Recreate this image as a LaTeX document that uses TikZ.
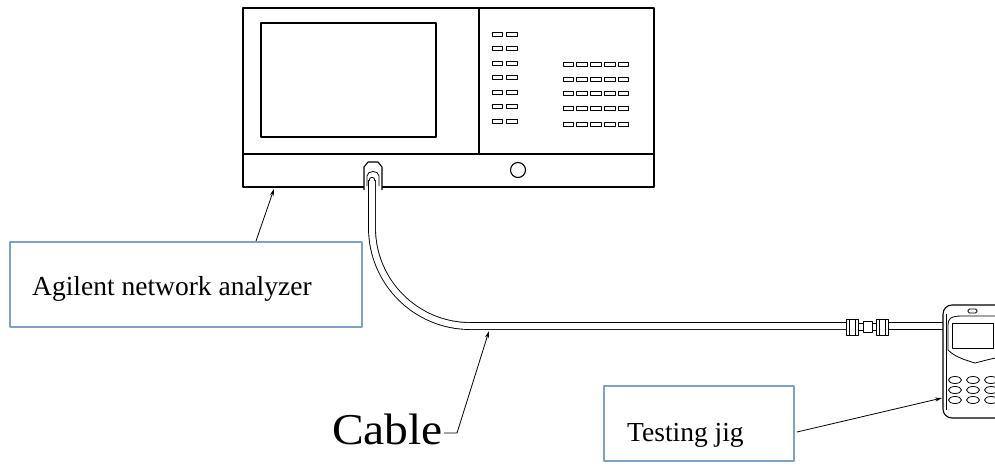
\documentclass[tikz,border=0pt]{standalone}
\usepackage{fontspec}
\usepackage{graphicx}
\setmainfont{Liberation Serif}
\usetikzlibrary{arrows.meta}
\definecolor{boxblue}{RGB}{126,161,199}
\begin{document}
\begin{tikzpicture}[x=1pt,y=-1pt,line join=round,
  dev/.style={draw=black,line width=1.1pt},
  btn/.style={draw=black,line width=0.8pt},
  lbox/.style={draw=boxblue,line width=2.5pt,inner sep=0pt,fill=white},
  lbl/.style={font=\fontsize{27.5}{30}\selectfont,inner sep=0pt},
  leader/.style={draw=black,line width=0.8pt,-{Stealth[length=7pt,width=4pt]}},
  cable/.style={draw=black,line width=0.9pt,double=white,double distance=6pt}]
\useasboundingbox (0,0) rectangle (995,466);

% ---------------- analyzer ----------------
\node[dev,minimum width=411pt,minimum height=179pt,inner sep=0pt] (ana) at (448.5,97.5) {};
\draw[dev] (243,154) -- (654,154);
\draw[dev] (479,8) -- (479,154);
\draw[dev] (261,23) rectangle (436,137);
\foreach \y in {34,48.5,63,77.5,92,106.5,121} {
  \draw[btn] (492,\y-2) rectangle (502.5,\y+2);
  \draw[btn] (506,\y-2) rectangle (517,\y+2);
}
\foreach \y in {64,79,93,108,124} {
  \foreach \i in {0,...,4} {
    \draw[btn] ({563+13.8*\i},\y-2) rectangle ({573.5+13.8*\i},\y+2);
  }
}
\draw[dev] (518,170) circle[radius=7.5];
\coordinate (anaTip) at (274,189);

% port outer
\draw[dev,fill=white] (364,190) -- (364,167) -- (368,162) -- (378,162) -- (382,167) -- (382,190);

% ---------------- cable ----------------
\coordinate (portC) at (372,180);
\coordinate (fitL) at (846,326);
\coordinate (fitR) at (888,326);
\coordinate (jig) at (945,326);
\draw[cable] (portC) -- (372,228) .. controls (372,282) and (416,326) .. (470,326) -- (fitL);
\draw[cable] (fitR) -- (jig);
% port inner
\draw[btn] (367,186) -- (367,176) .. controls (367,170) and (379,170) .. (379,176) -- (379,186);
\draw[btn] (369,181) .. controls (369,176) and (375,176) .. (375,181);

% fittings
\foreach \a/\b in {846/858,876/888} {
  \draw[btn,fill=white] (\a,319) rectangle (\b,335);
  \draw[btn] (\a+3,319) -- (\a+3,335);
  \draw[btn] (\b-3,319) -- (\b-3,335);
}
\draw[btn,fill=white] (858,323) rectangle (863,330);
\draw[btn,fill=white] (872,323) rectangle (876,330);
\draw[btn,fill=white] (863,321) rectangle (872,332);

% ---------------- phone (testing jig) ----------------
\begin{scope}
\clip (900,290) rectangle (995,466);
\draw[dev,rounded corners=9pt,fill=white] (943,305) rectangle (1020,418);
\draw[btn] (946,314) -- (946,410);
\draw[btn] (1000,316) -- (962,316) .. controls (950,316) and (948,319) .. (948,325) -- (948,350)
  .. controls (955,357) and (965,360) .. (975,363) .. controls (983,361) and (990,359) .. (1000,357);
\draw[btn,rounded corners=1.5pt] (968,309) rectangle (977,313);
\draw[btn] (952,323) rectangle (993,348);
\foreach \y in {380,390,400} {
  \foreach \x in {955,973,991} {
    \draw[btn] (\x,\y) ellipse[x radius=6.5,y radius=3.5];
  }
}
\end{scope}
\coordinate (jigTip) at (942,398);

% ---------------- labels ----------------
\node[lbox,minimum width=352pt,minimum height=85pt] (abox) at (186,284.5) {};
\node[lbl,anchor=base west] (atext) at (32,295) {Agilent network analyzer};
\coordinate (aStart) at (256,241);
\draw[leader] (aStart) -- (anaTip);

\node[lbox,minimum width=190pt,minimum height=75pt] (jbox) at (699,423.5) {};
\node[lbl,anchor=base west] (jtext) at (627,441) {Testing jig};
\coordinate (jStart) at (797,432);
\draw[leader] (jStart) -- (jigTip);

\node[font=\fontsize{44}{48}\selectfont,inner sep=0pt,anchor=base west] (clbl) at (332,444) {\scalebox{1.08}[1]{Cable}};
\coordinate (cStart) at (444,433);
\coordinate (cBend) at (457,433);
\coordinate (cableTip) at (489,331);
\draw[leader] (cStart) -- (cBend) -- (cableTip);
\end{tikzpicture}
\end{document}
